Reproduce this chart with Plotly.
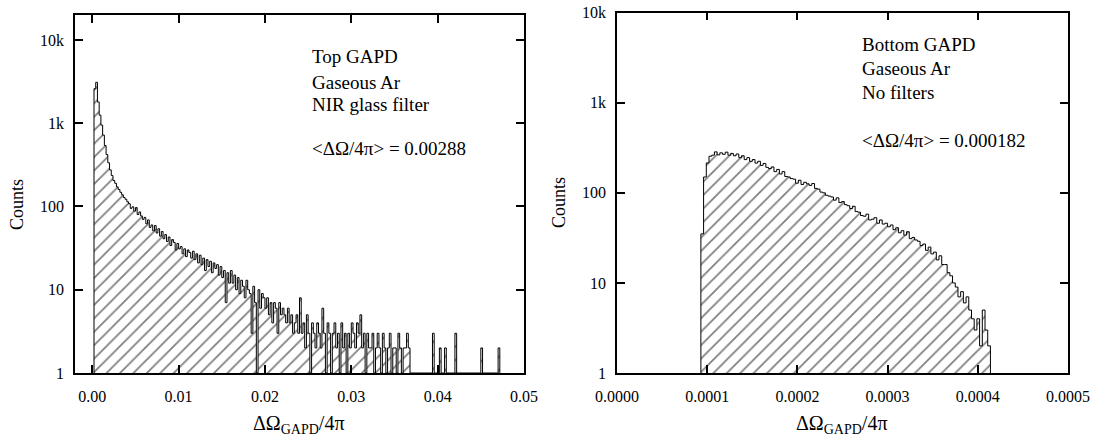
import plotly.graph_objects as go

# ---------------- data ----------------
# Left: Top GAPD, gaseous Ar, NIR glass filter (bin width 0.0002 starting at 0.0002)
left_bin_start = 0.0002
left_bin_width = 0.0002
left_counts = [
    2600, 3100, 1800, 1250, 950, 720, 540, 420, 335, 275,
    235, 205, 190, 172, 160, 148, 138, 128, 122, 114,
    108, 95, 99, 88, 97, 80, 86, 77, 70, 74,
    62, 69, 56, 60, 51, 59, 48, 54, 44, 50,
    41, 46, 38, 43, 34, 40, 37, 30, 36, 31,
    33, 27, 31, 25, 30, 28, 24, 29, 23, 27,
    21, 26, 20, 24, 17, 23, 19, 22, 16, 21,
    18, 20, 15, 19, 14, 17, 7, 16, 12, 17,
    12, 15, 10, 14, 9, 13, 11, 8, 13, 10,
    9, 3, 11, 7, 1, 10, 6, 9, 8, 6,
    8, 5, 7, 4, 7, 6, 3, 7, 5, 6,
    5, 4, 6, 4, 5, 3, 4, 5, 3, 8,
    3, 4, 2, 5, 3, 1, 4, 3, 2, 4,
    3, 2, 6, 3, 1, 4, 3, 0, 3, 4,
    2, 3, 1, 4, 2, 3, 0, 3, 2, 4,
    3, 2, 4, 3, 5, 2, 3, 1, 3, 2,
    2, 3, 0, 2, 3, 2, 1, 3, 2, 0,
    2, 3, 0, 2, 2, 0, 3, 2, 0, 2,
    2, 3, 2, 0, 0, 0, 0, 0, 0, 0,
    0, 0, 0, 0, 0, 0, 3, 0, 0, 0,
    2, 0, 0, 2, 0, 0, 0, 0, 0, 3,
    0, 0, 0, 0, 0, 0, 0, 0, 0, 0,
    0, 0, 0, 0, 2, 0, 0, 0, 0, 0,
    0, 0, 0, 0, 2,
]

# Right: Bottom GAPD, gaseous Ar, no filters (bin width 0.000003 starting at 0.000093)
right_bin_start = 0.000093
right_bin_width = 0.000003
right_counts = [
    35, 150, 215, 255, 262, 285, 264, 278, 268, 283,
    262, 274, 258, 270, 246, 258, 234, 246, 224, 234,
    214, 224, 202, 212, 192, 186, 194, 172, 182, 162,
    172, 152, 150, 144, 142, 128, 138, 124, 131, 126,
    121, 127, 112, 110, 102, 100, 94, 92, 90, 83,
    88, 78, 80, 74, 72, 67, 71, 62, 61, 56,
    55, 58, 50, 51, 53, 46, 50, 45, 46, 42,
    44, 39, 41, 36, 38, 34, 37, 31, 32, 30,
    29, 26, 27, 23, 25, 21, 22, 18, 20, 16,
    16, 13, 12, 10, 9, 7, 8, 6, 7, 5,
    4, 3, 4, 2, 5, 3, 2,
]

y_tickvals = [1, 10, 100, 1000, 10000]
y_ticktext = ["1", "10", "100", "1k", "10k"]

left_xtickvals = [0.00, 0.01, 0.02, 0.03, 0.04, 0.05]
left_xticktext = ["0.00", "0.01", "0.02", "0.03", "0.04", "0.05"]
right_xtickvals = [0.0, 0.0001, 0.0002, 0.0003, 0.0004, 0.0005]
right_xticktext = ["0.0000", "0.0001", "0.0002", "0.0003", "0.0004", "0.0005"]

left_labels = ["Top GAPD", "Gaseous Ar", "NIR glass filter", "&lt;ΔΩ/4π&gt; = 0.00288"]
right_labels = ["Bottom GAPD", "Gaseous Ar", "No filters", "&lt;ΔΩ/4π&gt; = 0.000182"]

x_title = "ΔΩ<sub>GAPD</sub>/4π"
y_title = "Counts"

FONT = "Liberation Serif, Times New Roman, serif"
W, H = 1100, 439


def step_polygon(start, width, counts):
    xs = [start]
    ys = [1]
    for i, c in enumerate(counts):
        h = c if c >= 1 else 1
        x0 = start + i * width
        xs += [x0, x0 + width]
        ys += [h, h]
    xs.append(start + len(counts) * width)
    ys.append(1)
    return xs, ys


hatch = dict(shape="/", fgcolor="black", bgcolor="white", size=9.5, solidity=0.18)

fig = go.Figure()
for (start, width, counts, xa, ya) in [
    (left_bin_start, left_bin_width, left_counts, "x", "y"),
    (right_bin_start, right_bin_width, right_counts, "x2", "y2"),
]:
    xs, ys = step_polygon(start, width, counts)
    fig.add_trace(go.Scatter(
        x=xs, y=ys, mode="lines", fill="toself", fillcolor="white",
        fillpattern=hatch, line=dict(color="black", width=1),
        xaxis=xa, yaxis=ya, showlegend=False, hoverinfo="skip",
    ))

# panel geometry (pixels)
L = dict(x0=75, x1=524, y0=15, y1=373)
R = dict(x0=617, x1=1068, y0=12.7, y1=373)


def px_dom_x(a, b):
    return [a / W, b / W]


def px_dom_y(top, bottom):
    return [1 - bottom / H, 1 - top / H]


axis_common = dict(
    showline=True, linecolor="black", linewidth=1.5, mirror="ticks",
    ticks="inside", ticklen=8, tickwidth=1.5, tickcolor="black",
    showgrid=False, zeroline=False, automargin=False,
    tickfont=dict(family=FONT, size=16, color="black"),
)

fig.update_layout(
    width=W, height=H,
    margin=dict(l=0, r=0, t=0, b=0, autoexpand=False),
    paper_bgcolor="white", plot_bgcolor="white",
    font=dict(family=FONT, color="black"),
    xaxis=dict(domain=px_dom_x(L["x0"], L["x1"]), range=[-0.002, 0.05],
               tickvals=left_xtickvals, ticktext=left_xticktext, anchor="y",
               ticklabelstandoff=8, **axis_common),
    yaxis=dict(domain=px_dom_y(L["y0"], L["y1"]), type="log", range=[0, 4.3],
               tickvals=y_tickvals, ticktext=y_ticktext, anchor="x",
               ticklabelstandoff=6, **axis_common),
    xaxis2=dict(domain=px_dom_x(R["x0"], R["x1"]), range=[0, 0.0005],
                tickvals=right_xtickvals, ticktext=right_xticktext, anchor="y2",
                ticklabelstandoff=8, **axis_common),
    yaxis2=dict(domain=px_dom_y(R["y0"], R["y1"]), type="log", range=[0, 4],
                tickvals=y_tickvals, ticktext=y_ticktext, anchor="x2",
                ticklabelstandoff=6, **axis_common),
)

annotations = []
for labels, x0, ys in [
    (left_labels, 310, [57, 82, 105, 148]),
    (right_labels, 860, [44, 68, 92, 140]),
]:
    for t, yc in zip(labels, ys):
        annotations.append(dict(
            text=t, x=x0 / W, y=1 - yc / H, xref="paper", yref="paper",
            xanchor="left", yanchor="middle", showarrow=False,
            font=dict(family=FONT, size=19, color="black"),
        ))

for xc in [299, 842]:
    annotations.append(dict(
        text=x_title, x=xc / W, y=1 - 424 / H, xref="paper", yref="paper",
        xanchor="center", yanchor="middle", showarrow=False,
        font=dict(family=FONT, size=20, color="black"),
    ))
for xc, yc in [(17, 205), (559, 203)]:
    annotations.append(dict(
        text=y_title, x=xc / W, y=1 - yc / H, xref="paper", yref="paper",
        xanchor="center", yanchor="middle", showarrow=False, textangle=-90,
        font=dict(family=FONT, size=18, color="black"),
    ))

fig.update_layout(annotations=annotations)
fig.write_html("out.html")
